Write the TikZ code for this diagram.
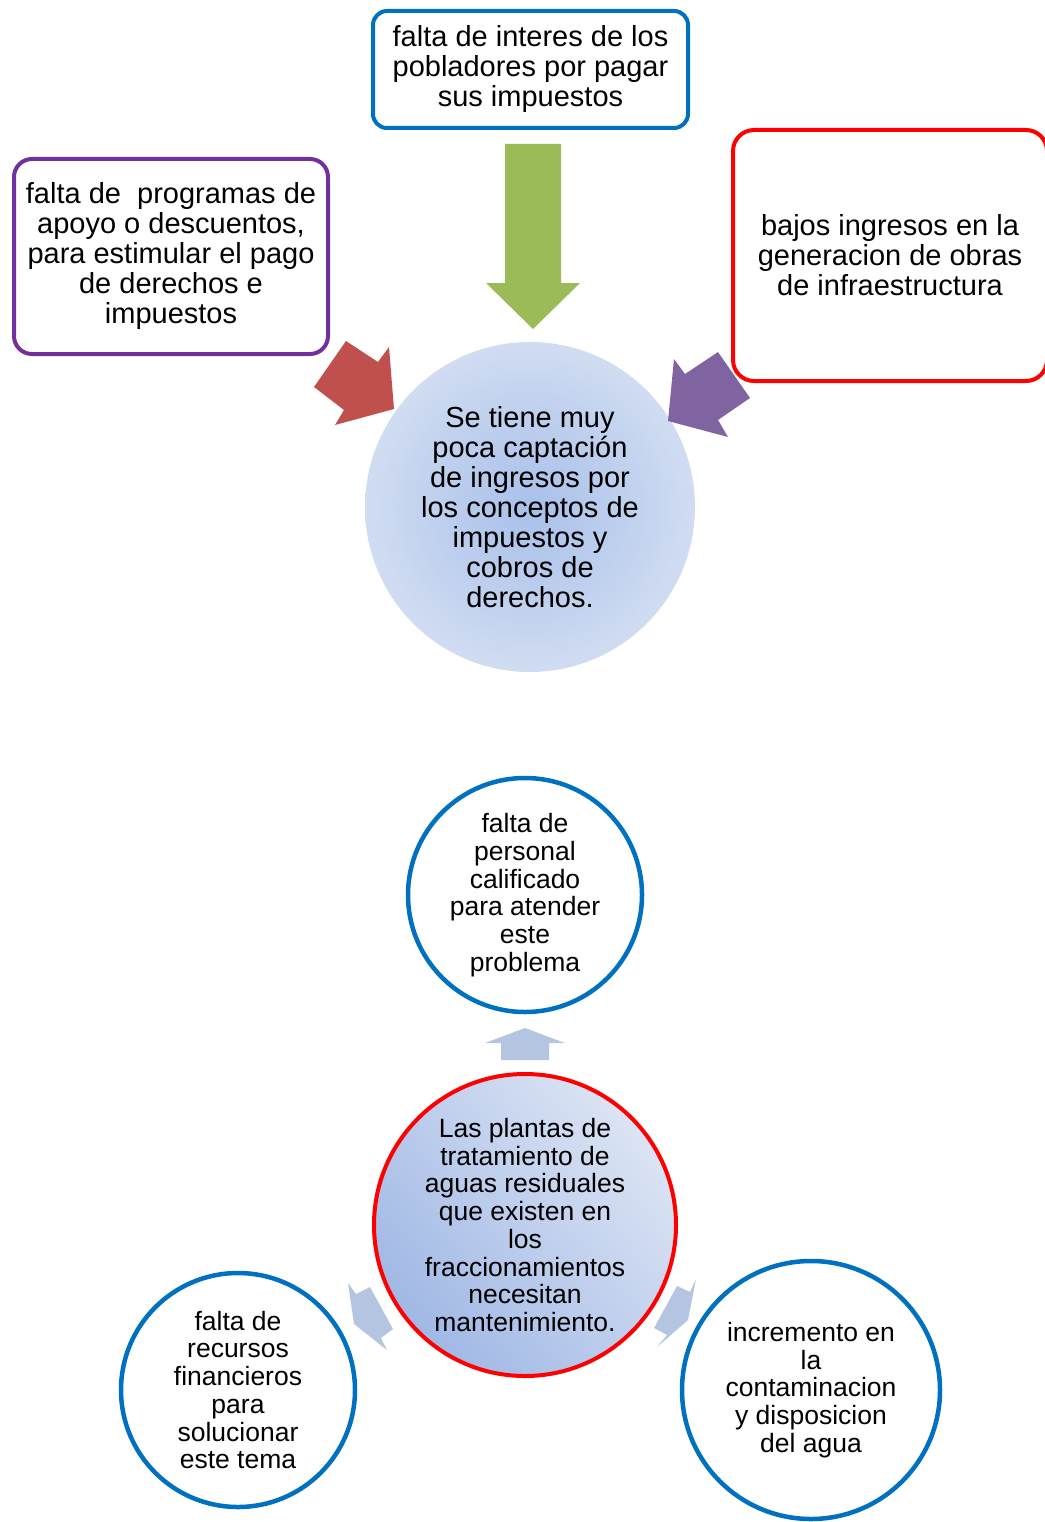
\documentclass[tikz,border=0pt]{standalone}
\usepackage{fontspec}
\setmainfont{Liberation Sans}
\usepackage{tikz}
\definecolor{azul}{RGB}{0,112,192}
\definecolor{violeta}{RGB}{112,48,160}
\definecolor{rojo}{RGB}{255,0,0}
\definecolor{verde}{RGB}{155,187,89}
\definecolor{ladrillo}{RGB}{192,80,77}
\definecolor{morado}{RGB}{128,100,162}
\definecolor{celeste}{RGB}{180,197,225}
\definecolor{centro}{RGB}{168,192,234}
\definecolor{borde}{RGB}{208,220,241}
\definecolor{oscuro}{RGB}{160,184,229}
\definecolor{claro}{RGB}{220,228,244}

\begin{document}
\begin{tikzpicture}[x=1pt,y=-1pt,
	caja/.style={draw,line width=4pt,rounded corners=18pt,align=center,inner sep=0pt,
		font=\fontsize{29}{30}\selectfont},
	circulo/.style={circle,draw=azul,line width=4.5pt,fill=white,align=center,inner sep=0pt,
		font=\fontsize{26.5}{27.7}\selectfont}]
			\useasboundingbox (0,0) rectangle (1044,1522);
			% causas arriba
			\node[caja,draw=azul,rounded corners=14pt,minimum width=315pt,minimum height=117pt] (interes) at (530.5,69.5) {falta de interes de los\\pobladores por pagar\\sus impuestos};
			\node[caja,draw=violeta,minimum width=314pt,minimum height=195pt] (programas) at (171,256.5) {falta de\ \ programas de\\apoyo o descuentos,\\para estimular el pago\\de derechos e\\impuestos};
			\node[caja,draw=rojo,rounded corners=21pt,minimum width=314pt,minimum height=251pt] (ingresos) at (890,255.5) {bajos ingresos en la\\generacion de obras\\de infraestructura};
			\node[circle,shading=radial,inner color=centro,outer color=borde,minimum size=330pt,align=center,inner sep=0pt,font=\fontsize{29}{30}\selectfont] (captacion) at (530,507) {Se tiene muy\\poca captación\\de ingresos por\\los conceptos de\\impuestos y\\cobros de\\derechos.};
			\fill[verde] (505,144)--(561,144)--(561,283)--(580,283)--(533,329)--(486,283)--(505,283)--cycle;
			\fill[ladrillo] (314,387)--(346,341)--(378,362)--(389,347)--(394,409)--(335,425)--(344,410)--cycle;
			\fill[morado] (718,352)--(750,398)--(718,420)--(728,437)--(668,421)--(674,359)--(685,374)--cycle;
			% efectos abajo
			\node[circulo,minimum size=234pt] (personal) at (525,895) {falta de\\personal\\calificado\\para atender\\este\\problema};
			\node[circulo,draw=rojo,line width=4pt,shading=axis,top color=claro,bottom color=oscuro,shading angle=-50,minimum size=302pt] (plantas) at (525,1225) {Las plantas de\\tratamiento de\\aguas residuales\\que existen en\\los\\fraccionamientos\\necesitan\\mantenimiento.};
			\node[circulo,minimum size=234pt] (recursos) at (238,1390) {falta de\\recursos\\financieros\\para\\solucionar\\este tema};
			\node[circulo,minimum size=258pt] (contaminacion) at (811,1390) {incremento en\\la\\contaminacion\\y disposicion\\del agua};
			\fill[celeste] (501,1060)--(501,1043)--(485,1043)--(525,1028)--(565,1043)--(549,1043)--(549,1060)--cycle;
			\fill[celeste] (370,1287)--(393,1329)--(381,1338)--(387,1350)--(354,1324)--(348,1283)--(356,1294)--cycle;
			\fill[celeste] (677,1286)--(690,1292)--(696,1279)--(688,1320)--(657,1347)--(667,1335)--(654,1328)--cycle;
		\end{tikzpicture}
\end{document}
